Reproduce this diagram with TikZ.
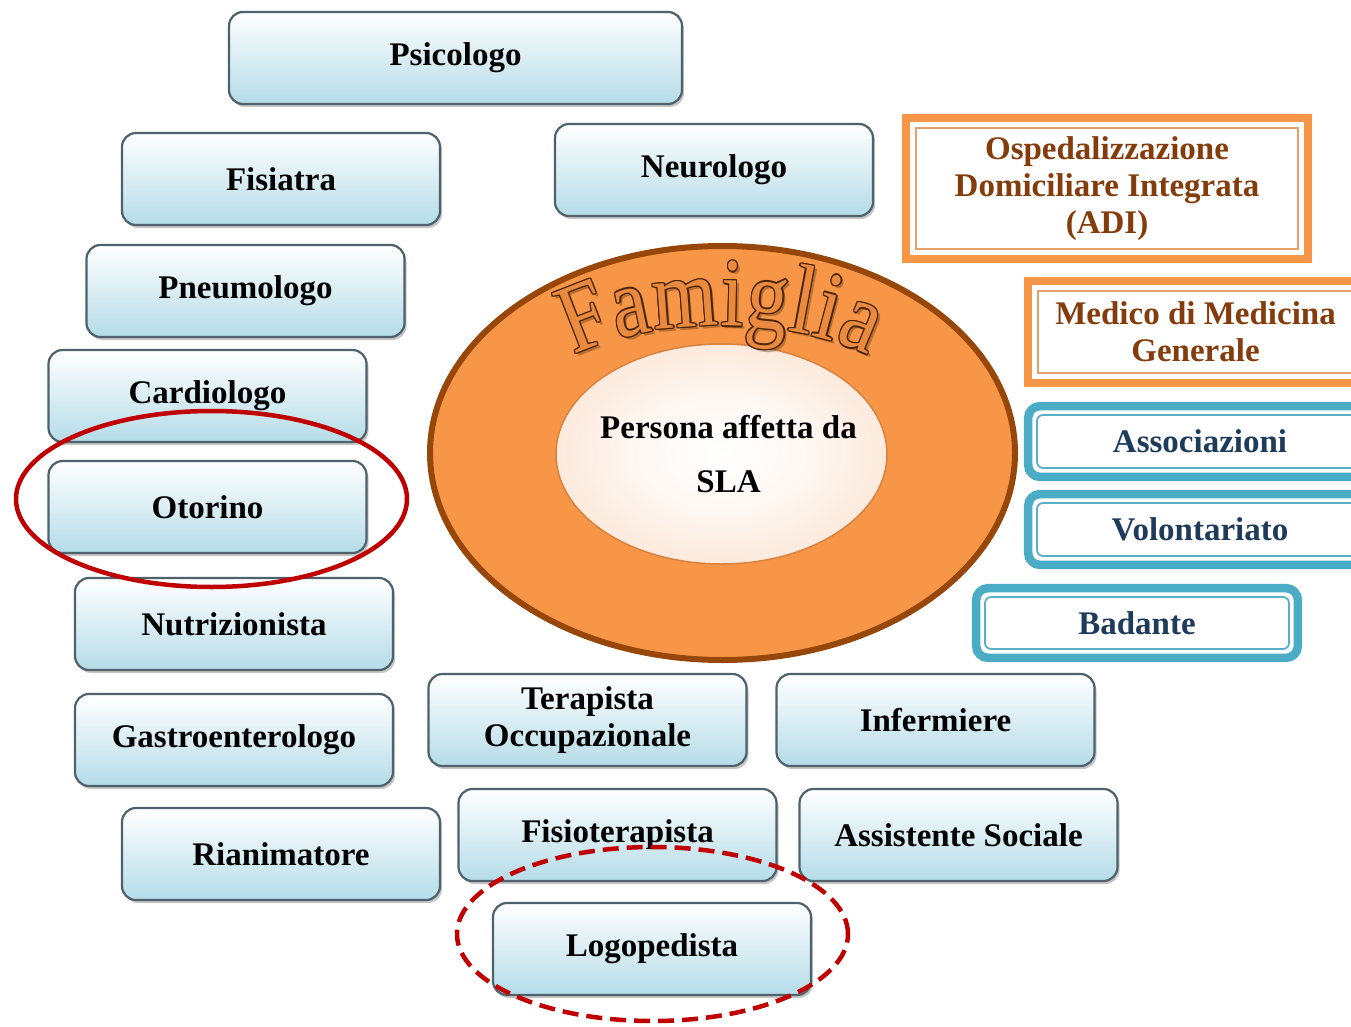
\documentclass[tikz,border=0pt]{standalone}
\usepackage{fontspec}
\setmainfont{Liberation Serif}
\newfontfamily\famfamily[FakeStretch=0.85]{Liberation Serif}
\usetikzlibrary{shapes.geometric,shadows,decorations.text}

\definecolor{boxblue}{HTML}{B5DCE8}
\definecolor{boxedge}{HTML}{4F616D}
\definecolor{orangeband}{HTML}{F79646}
\definecolor{orangethin}{HTML}{E9A066}
\definecolor{browntext}{HTML}{843C0C}
\definecolor{tealband}{HTML}{4BACC6}
\definecolor{tealthin}{HTML}{5BB0C8}
\definecolor{navytext}{HTML}{1F3B5C}
\definecolor{famorange}{HTML}{F79646}
\definecolor{famedge}{HTML}{97470A}
\definecolor{famletter}{HTML}{E98A3E}
\definecolor{famline}{HTML}{4A2408}
\definecolor{peach}{HTML}{F6C29C}
\definecolor{peachedge}{HTML}{D9823F}
\definecolor{markred}{HTML}{C00000}

\newcommand\lblfont{\bfseries\fontsize{33}{37}\selectfont}
\newcommand\famglyph{\famfamily\mdseries\fontsize{98}{98}\selectfont}

\pgfdeclareradialshading{innerglow}{\pgfpoint{0bp}{0bp}}{%
  color(0bp)=(white); color(14bp)=(white!85!peach); color(36bp)=(white!45!peach);
  color(50bp)=(peach); color(100bp)=(peach)}

\begin{document}
\begin{tikzpicture}[x=1pt,y=-1pt,
  bluebox/.style={rounded corners=14pt, draw=boxedge, line width=2.2pt,
    top color=white, bottom color=boxblue, minimum width=318pt,
    minimum height=92pt, inner sep=0pt, font=\lblfont, text=black, align=center,
    drop shadow={shadow xshift=2pt, shadow yshift=-3pt, opacity=0.45}},
  orangebox/.style={draw=orangethin, line width=1.8pt, fill=white,
    text=browntext, font=\lblfont, align=center, inner sep=0pt},
  bandO/.style={draw=orangeband, line width=8pt},
  tealbox/.style={draw=tealthin, line width=1.8pt, rounded corners=6pt,
    fill=white, text=navytext, font=\lblfont, align=center, inner sep=0pt},
  bandT/.style={draw=tealband, line width=8.5pt, rounded corners=12pt},
  ring/.style={ellipse, draw=markred, line width=4.5pt, inner sep=0pt,
    minimum width=391pt, minimum height=176pt},
  famtext/.style={decorate, decoration={text along path,
    text={|\famglyph|Famiglia}, text align=fit to path, text color=#1}}
]
\useasboundingbox (0,0) rectangle (1351,1027);
\clip (0,0) rectangle (1351,1027);
\fill[white] (0,0) rectangle (1351,1027);

% family circle with the patient at its centre
\node[ellipse, draw=famedge, line width=6pt, fill=famorange, inner sep=0pt,
  minimum width=585pt, minimum height=414pt] (famiglia) at (722.5,453) {};
\node[ellipse, draw=peachedge, line width=1.5pt, shading=innerglow, inner sep=0pt,
  minimum width=331pt, minimum height=220pt] (centro) at (721.5,454) {};
\node[font=\bfseries\fontsize{33}{54}\selectfont, align=center, text=black]
  (persona) at (728.5,454) {Persona affetta da\\SLA};

% arched outlined title: soft shadow, dark outline, orange face
\begin{scope}[opacity=0.35]
  \path[famtext=famline, shift={(3,3)}]
    (574,356) .. controls (645,316) and (797,316) .. (868,356);
\end{scope}
\foreach \dx/\dy in {-1.3/0,1.3/0,0/-1.3,0/1.3,-1/-1,1/-1,-1/1,1/1}{
  \path[famtext=famline, shift={(\dx,\dy)}]
    (574,356) .. controls (645,316) and (797,316) .. (868,356);
}
\path[famtext=famletter] (574,356) .. controls (645,316) and (797,316) .. (868,356);

% specialists
\node[bluebox, minimum width=453pt] (psicologo) at (455.5,58) {Psicologo};
\node[bluebox] (fisiatra) at (281,179) {Fisiatra};
\node[bluebox] (neurologo) at (714,170) {Neurologo};
\node[bluebox] (pneumologo) at (245.5,291) {Pneumologo};
\node[bluebox] (cardiologo) at (207.5,396) {Cardiologo};
\node[bluebox] (otorino) at (207.5,507) {Otorino};
\node[bluebox] (nutrizionista) at (234,624) {Nutrizionista};
\node[bluebox] (gastro) at (234,740) {Gastroenterologo};
\node[bluebox] (rianimatore) at (281,854) {Rianimatore};
\node[bluebox] (terapista) at (587.5,720) {Terapista\\Occupazionale};
\node[bluebox] (infermiere) at (935.5,720) {Infermiere};
\node[bluebox] (fisioterapista) at (617.5,835) {Fisioterapista};
\node[bluebox] (assistente) at (958.5,835) {Assistente Sociale};
\node[bluebox] (logopedista) at (652,949) {Logopedista};

% services
\node[orangebox, minimum width=382pt, minimum height=121pt] (adi) at (1107,188.5)
  {Ospedalizzazione\\Domiciliare Integrata\\(ADI)};
\draw[bandO] ([shift={(-9,-9)}]adi.north west) rectangle ([shift={(9,9)}]adi.south east);
\node[orangebox, minimum width=315pt, minimum height=82pt] (medico) at (1195.5,332)
  {Medico di Medicina\\Generale};
\draw[bandO] ([shift={(-9,-9)}]medico.north west) rectangle ([shift={(9,9)}]medico.south east);

\node[tealbox, minimum width=326pt, minimum height=53pt] (assoc) at (1200,441.5) {Associazioni};
\draw[bandT] ([shift={(-8,-8)}]assoc.north west) rectangle ([shift={(8,8)}]assoc.south east);
\node[tealbox, minimum width=326pt, minimum height=53pt] (volont) at (1200,529.5) {Volontariato};
\draw[bandT] ([shift={(-8,-8)}]volont.north west) rectangle ([shift={(8,8)}]volont.south east);
\node[tealbox, minimum width=304pt, minimum height=52pt] (badante) at (1137,623) {Badante};
\draw[bandT] ([shift={(-8,-8)}]badante.north west) rectangle ([shift={(8,8)}]badante.south east);

% highlight rings
\node[ring] (ringoto) at (211.5,499) {};
\node[ring, dashed, dash pattern=on 16pt off 8pt, minimum height=174pt] (ringlogo) at (652.5,934) {};
\end{tikzpicture}
\end{document}
